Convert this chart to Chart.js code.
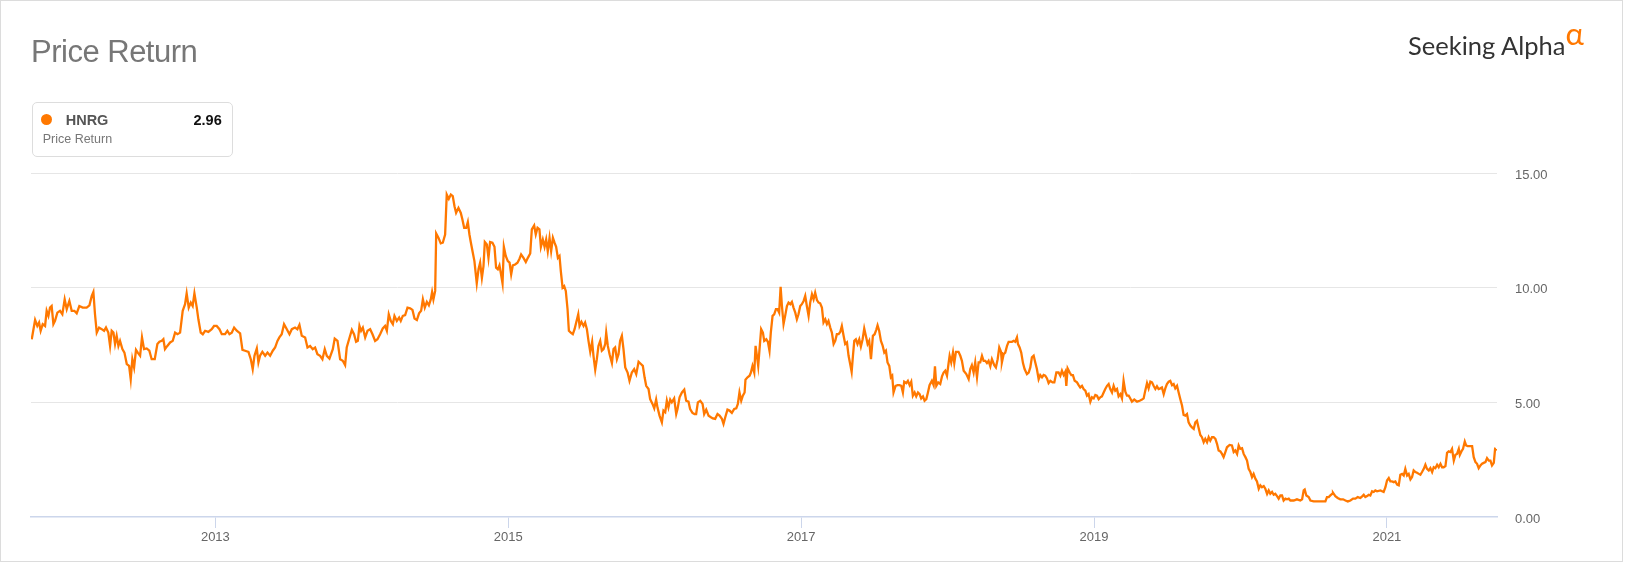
<!DOCTYPE html>
<html>
<head>
<meta charset="utf-8">
<title>Price Return</title>
<script src="https://cdn.jsdelivr.net/npm/chart.js@4.4.0/dist/chart.umd.min.js"></script>
<style>
  html, body { margin: 0; padding: 0; background: #fff; }
  body { width: 1625px; height: 562px; position: relative; overflow: hidden; font-family: "Liberation Sans", Arial, sans-serif; }
  #frame { position: absolute; left: 0; top: 0; width: 1623px; height: 562px; box-sizing: border-box; border: 1px solid #dcdcdc; pointer-events: none; }
  #chartBox { position: absolute; left: 0; top: 0; width: 1625px; height: 562px; }
  #title { position: absolute; left: 31px; top: 35.5px; font-size: 31px; line-height: 31px; letter-spacing: -0.5px; color: #777; white-space: nowrap; }
  #logo { position: absolute; left: 1408px; top: 32.7px; font-family: Lato, "Open Sans", sans-serif; font-size: 25.5px; line-height: 25.5px; color: #333; white-space: nowrap; }
  #alpha { position: absolute; left: 1565.5px; top: 18px; font-family: Lato, "Open Sans", sans-serif; font-size: 31px; line-height: 31px; color: #ff7800; }
  #legend { position: absolute; left: 32px; top: 102px; width: 201px; height: 55px; box-sizing: border-box; border: 1px solid #ddd; border-radius: 5px; background: #fff; }
  #legend .dot { position: absolute; left: 7.5px; top: 10.5px; width: 11px; height: 11px; border-radius: 50%; background: #ff7800; }
  #legend .name { position: absolute; left: 32.7px; top: 9.7px; font-size: 14.5px; line-height: 14.5px; font-weight: bold; color: #555; }
  #legend .value { position: absolute; right: 10.3px; top: 9.7px; font-size: 14.5px; line-height: 14.5px; font-weight: bold; color: #111; }
  #legend .sub { position: absolute; left: 9.7px; top: 30.4px; font-size: 12.5px; line-height: 12.5px; color: #777; white-space: nowrap; }
</style>
</head>
<body>
<div id="chartBox"><canvas id="priceChart" width="1625" height="562"></canvas></div>
<div id="title">Price Return</div>
<div id="logo">Seeking Alpha</div>
<div id="alpha">α</div>
<div id="legend">
  <span class="dot"></span>
  <span class="name" id="legendName"></span>
  <span class="value" id="legendValue"></span>
  <span class="sub">Price Return</span>
</div>
<div id="frame"></div>

<script>
// HNRG price return (dates as decimal years)
const ticker = "HNRG";
const seriesLabel = "Price Return";

const dates = [
  2011.746, 2011.769, 2011.784, 2011.796, 2011.807, 2011.821, 2011.837, 2011.848, 2011.860, 2011.871, 2011.882, 2011.894, 2011.905, 2011.921, 2011.939, 2011.955, 2011.971, 2011.985,
  2012.003, 2012.019, 2012.037, 2012.053, 2012.071, 2012.094, 2012.121, 2012.140, 2012.156, 2012.167, 2012.178, 2012.190, 2012.206, 2012.224, 2012.240, 2012.253, 2012.269, 2012.281,
  2012.292, 2012.304, 2012.315, 2012.326, 2012.338, 2012.349, 2012.365, 2012.379, 2012.395, 2012.411, 2012.422, 2012.433, 2012.445, 2012.458, 2012.470, 2012.486, 2012.499, 2012.513,
  2012.531, 2012.549, 2012.565, 2012.586, 2012.604, 2012.618, 2012.634, 2012.645, 2012.656, 2012.672, 2012.691, 2012.709, 2012.725, 2012.741, 2012.759, 2012.777, 2012.793, 2012.804,
  2012.818, 2012.832, 2012.845, 2012.857, 2012.873, 2012.884, 2012.900, 2012.914, 2012.930, 2012.952, 2012.975, 2012.991,
  2013.009, 2013.028, 2013.044, 2013.066, 2013.082, 2013.096, 2013.112, 2013.128, 2013.146, 2013.169, 2013.185, 2013.203, 2013.226, 2013.242, 2013.255, 2013.267, 2013.283, 2013.294,
  2013.305, 2013.321, 2013.340, 2013.356, 2013.374, 2013.392, 2013.408, 2013.424, 2013.437, 2013.453, 2013.469, 2013.488, 2013.506, 2013.522, 2013.544, 2013.560, 2013.574, 2013.590,
  2013.613, 2013.629, 2013.647, 2013.665, 2013.681, 2013.697, 2013.715, 2013.731, 2013.747, 2013.761, 2013.779, 2013.802, 2013.815, 2013.834, 2013.852, 2013.870, 2013.886, 2013.897,
  2013.913, 2013.932, 2013.947, 2013.961, 2013.973, 2013.984, 2013.995,
  2014.007, 2014.023, 2014.039, 2014.057, 2014.073, 2014.091, 2014.107, 2014.125, 2014.143, 2014.159, 2014.171, 2014.184, 2014.198, 2014.212, 2014.223, 2014.239, 2014.255, 2014.266,
  2014.280, 2014.296, 2014.312, 2014.330, 2014.346, 2014.360, 2014.376, 2014.391, 2014.405, 2014.417, 2014.430, 2014.444, 2014.458, 2014.471, 2014.480, 2014.489, 2014.501, 2014.508,
  2014.524, 2014.539, 2014.553, 2014.569, 2014.580, 2014.594, 2014.608, 2014.621, 2014.633, 2014.644, 2014.660, 2014.676, 2014.687, 2014.699, 2014.713, 2014.724, 2014.735, 2014.744,
  2014.758, 2014.769, 2014.785, 2014.797, 2014.808, 2014.820, 2014.831, 2014.840, 2014.854, 2014.865, 2014.876, 2014.892, 2014.906, 2014.917, 2014.929, 2014.940, 2014.949, 2014.961,
  2014.970, 2014.983, 2014.997,
  2015.009, 2015.020, 2015.031, 2015.047, 2015.063, 2015.077, 2015.088, 2015.104, 2015.120, 2015.134, 2015.150, 2015.161, 2015.177, 2015.188, 2015.200, 2015.213, 2015.223, 2015.236,
  2015.248, 2015.259, 2015.270, 2015.282, 2015.293, 2015.305, 2015.316, 2015.327, 2015.339, 2015.350, 2015.359, 2015.371, 2015.382, 2015.393, 2015.405, 2015.414, 2015.427, 2015.441,
  2015.453, 2015.464, 2015.478, 2015.487, 2015.500, 2015.514, 2015.525, 2015.537, 2015.548, 2015.560, 2015.573, 2015.582, 2015.594, 2015.605, 2015.616, 2015.628, 2015.639, 2015.651,
  2015.662, 2015.669, 2015.680, 2015.692, 2015.708, 2015.719, 2015.730, 2015.742, 2015.753, 2015.764, 2015.776, 2015.787, 2015.799, 2015.815, 2015.828, 2015.844, 2015.860, 2015.874,
  2015.890, 2015.906, 2015.919, 2015.931, 2015.942, 2015.958, 2015.969, 2015.985, 2015.997,
  2016.010, 2016.019, 2016.033, 2016.049, 2016.060, 2016.072, 2016.083, 2016.094, 2016.106, 2016.117, 2016.133, 2016.147, 2016.156, 2016.170, 2016.186, 2016.202, 2016.215, 2016.231,
  2016.242, 2016.258, 2016.272, 2016.283, 2016.295, 2016.311, 2016.327, 2016.338, 2016.352, 2016.368, 2016.384, 2016.397, 2016.413, 2016.429, 2016.443, 2016.459, 2016.470, 2016.482,
  2016.497, 2016.511, 2016.527, 2016.543, 2016.557, 2016.568, 2016.579, 2016.591, 2016.602, 2016.614, 2016.620, 2016.634, 2016.648, 2016.657, 2016.668, 2016.680, 2016.689, 2016.698,
  2016.707, 2016.716, 2016.727, 2016.739, 2016.748, 2016.762, 2016.773, 2016.784, 2016.793, 2016.805, 2016.816, 2016.828, 2016.839, 2016.850, 2016.860, 2016.869, 2016.880, 2016.891,
  2016.903, 2016.914, 2016.926, 2016.937, 2016.948, 2016.960, 2016.971, 2016.982, 2016.994,
  2017.005, 2017.017, 2017.028, 2017.039, 2017.051, 2017.062, 2017.074, 2017.085, 2017.096, 2017.108, 2017.119, 2017.130, 2017.142, 2017.153, 2017.165, 2017.176, 2017.187, 2017.199,
  2017.210, 2017.222, 2017.233, 2017.244, 2017.256, 2017.267, 2017.278, 2017.290, 2017.301, 2017.313, 2017.324, 2017.335, 2017.345, 2017.354, 2017.363, 2017.374, 2017.385, 2017.397,
  2017.408, 2017.420, 2017.431, 2017.442, 2017.454, 2017.465, 2017.477, 2017.490, 2017.502, 2017.513, 2017.522, 2017.533, 2017.545, 2017.556, 2017.568, 2017.579, 2017.590, 2017.602,
  2017.613, 2017.622, 2017.631, 2017.645, 2017.659, 2017.672, 2017.684, 2017.695, 2017.704, 2017.718, 2017.729, 2017.741, 2017.752, 2017.763, 2017.775, 2017.786, 2017.798, 2017.809,
  2017.820, 2017.832, 2017.843, 2017.855, 2017.866, 2017.877, 2017.893, 2017.905, 2017.914, 2017.923, 2017.936, 2017.950, 2017.962, 2017.973, 2017.984, 2017.996,
  2018.007, 2018.014, 2018.025, 2018.037, 2018.046, 2018.057, 2018.075, 2018.087, 2018.098, 2018.110, 2018.128, 2018.144, 2018.155, 2018.166, 2018.178, 2018.189, 2018.201, 2018.212,
  2018.223, 2018.235, 2018.246, 2018.258, 2018.269, 2018.280, 2018.292, 2018.303, 2018.319, 2018.330, 2018.342, 2018.353, 2018.365, 2018.371, 2018.383, 2018.394, 2018.406, 2018.417,
  2018.428, 2018.440, 2018.451, 2018.462, 2018.474, 2018.481, 2018.492, 2018.503, 2018.515, 2018.526, 2018.542, 2018.554, 2018.565, 2018.576, 2018.588, 2018.599, 2018.610, 2018.622,
  2018.633, 2018.645, 2018.656, 2018.667, 2018.679, 2018.690, 2018.702, 2018.717, 2018.729, 2018.743, 2018.758, 2018.770, 2018.781, 2018.793, 2018.804, 2018.811, 2018.820, 2018.834,
  2018.845, 2018.856, 2018.868, 2018.884, 2018.895, 2018.906, 2018.918, 2018.929, 2018.941, 2018.952, 2018.963, 2018.975, 2018.986, 2018.998,
  2019.009, 2019.020, 2019.032, 2019.043, 2019.054, 2019.066, 2019.077, 2019.089, 2019.100, 2019.111, 2019.123, 2019.134, 2019.145, 2019.157, 2019.168, 2019.180, 2019.191, 2019.202,
  2019.214, 2019.225, 2019.237, 2019.248, 2019.259, 2019.275, 2019.294, 2019.312, 2019.328, 2019.339, 2019.350, 2019.362, 2019.373, 2019.385, 2019.396, 2019.407, 2019.419, 2019.430,
  2019.441, 2019.453, 2019.464, 2019.476, 2019.487, 2019.498, 2019.510, 2019.521, 2019.533, 2019.544, 2019.555, 2019.567, 2019.578, 2019.590, 2019.601, 2019.612, 2019.624, 2019.635,
  2019.646, 2019.658, 2019.669, 2019.681, 2019.692, 2019.703, 2019.715, 2019.726, 2019.737, 2019.749, 2019.760, 2019.772, 2019.783, 2019.794, 2019.806, 2019.817, 2019.829, 2019.840,
  2019.851, 2019.863, 2019.874, 2019.885, 2019.897, 2019.908, 2019.926, 2019.942, 2019.954, 2019.965, 2019.977, 2019.988, 2019.999,
  2020.011, 2020.022, 2020.034, 2020.045, 2020.056, 2020.068, 2020.079, 2020.090, 2020.102, 2020.113, 2020.125, 2020.136, 2020.147, 2020.159, 2020.170, 2020.182, 2020.193, 2020.204,
  2020.216, 2020.227, 2020.238, 2020.250, 2020.261, 2020.273, 2020.284, 2020.295, 2020.307, 2020.318, 2020.330, 2020.341, 2020.364, 2020.386, 2020.409, 2020.421, 2020.432, 2020.439,
  2020.450, 2020.466, 2020.478, 2020.500, 2020.523, 2020.546, 2020.569, 2020.580, 2020.591, 2020.603, 2020.614, 2020.626, 2020.632, 2020.648, 2020.664, 2020.682, 2020.701, 2020.717,
  2020.733, 2020.751, 2020.769, 2020.785, 2020.801, 2020.819, 2020.833, 2020.842, 2020.853, 2020.865, 2020.876, 2020.887, 2020.899, 2020.910, 2020.921, 2020.933, 2020.956, 2020.978,
  2020.990,
  2021.001, 2021.013, 2021.024, 2021.035, 2021.047, 2021.058, 2021.070, 2021.081, 2021.092, 2021.104, 2021.115, 2021.126, 2021.138, 2021.149, 2021.161, 2021.172, 2021.183, 2021.195,
  2021.206, 2021.218, 2021.229, 2021.240, 2021.252, 2021.263, 2021.274, 2021.286, 2021.297, 2021.309, 2021.320, 2021.331, 2021.343, 2021.354, 2021.366, 2021.377, 2021.388, 2021.400,
  2021.411, 2021.422, 2021.434, 2021.445, 2021.457, 2021.468, 2021.479, 2021.491, 2021.498, 2021.509, 2021.520, 2021.532, 2021.541, 2021.552, 2021.566, 2021.582, 2021.593, 2021.605,
  2021.616, 2021.627, 2021.639, 2021.650, 2021.661, 2021.673, 2021.684, 2021.696, 2021.707, 2021.718, 2021.730, 2021.739, 2021.744
];

const prices = [
  7.75, 8.59, 8.33, 8.48, 8.12, 8.41, 8.33, 8.99, 8.77, 9.13, 9.20, 8.41, 8.55, 8.91, 8.99, 8.84, 9.49, 9.06,
  9.42, 8.99, 8.99, 8.88, 9.20, 9.13, 9.13, 9.23, 9.64, 9.81, 8.84, 8.04, 8.26, 8.19, 8.12, 8.26, 8.04, 7.46,
  8.12, 8.04, 7.54, 7.90, 7.46, 7.68, 7.32, 7.17, 6.67, 6.59, 6.01, 6.88, 6.52, 7.29, 7.17, 7.03, 7.83, 7.32,
  7.35, 7.25, 6.88, 6.88, 7.54, 7.64, 7.68, 7.75, 7.32, 7.46, 7.61, 7.68, 8.04, 7.97, 8.04, 8.99, 9.28, 9.75,
  9.13, 9.35, 9.20, 9.75, 9.13, 8.62, 8.04, 7.97, 8.12, 8.07, 8.19, 8.33,
  8.33, 8.19, 7.97, 7.97, 8.12, 7.97, 8.04, 8.26, 8.12, 8.01, 7.29, 7.25, 7.20, 6.88, 6.45, 7.03, 7.35, 6.74,
  7.03, 7.20, 7.03, 7.17, 7.03, 7.25, 7.39, 7.68, 7.83, 7.97, 8.41, 8.19, 7.97, 8.19, 8.26, 8.19, 8.38, 7.90,
  7.83, 7.39, 7.46, 7.32, 7.39, 7.10, 7.03, 6.88, 7.32, 7.03, 6.91, 7.32, 7.78, 7.68, 6.88, 6.81, 6.62, 7.39,
  7.75, 8.16, 7.97, 7.64, 7.68, 8.33, 8.12,
  8.26, 7.83, 8.12, 8.19, 7.97, 7.68, 7.75, 7.97, 8.22, 8.33, 8.12, 8.84, 8.55, 8.41, 8.77, 8.55, 8.70, 8.55,
  8.77, 8.80, 9.13, 9.10, 9.03, 8.65, 8.59, 8.88, 8.99, 9.49, 9.13, 9.38, 9.23, 9.49, 9.81, 9.49, 9.86, 12.36,
  12.17, 11.93, 11.96, 12.32, 14.06, 13.87, 14.06, 13.99, 13.55, 13.26, 13.48, 13.26, 12.97, 12.61, 12.61, 12.86, 12.32, 11.99,
  11.52, 11.16, 10.19, 10.80, 11.09, 10.43, 10.94, 11.99, 11.88, 11.30, 11.99, 11.96, 11.78, 10.87, 10.80, 10.97, 10.65, 10.19,
  11.78, 11.38, 11.16,
  11.09, 10.58, 10.97, 11.01, 11.09, 11.26, 11.45, 11.30, 11.12, 11.30, 11.49, 12.54, 12.71, 12.32, 12.61, 12.54, 11.78, 12.10,
  11.78, 12.10, 11.59, 12.17, 11.59, 12.17, 11.96, 11.78, 11.30, 11.38, 10.72, 10.00, 10.07, 9.86, 9.06, 8.12, 8.04, 7.97,
  8.19, 8.48, 8.84, 8.33, 8.51, 8.33, 8.48, 8.19, 7.68, 7.20, 7.64, 7.03, 6.42, 6.88, 7.46, 7.68, 7.25, 7.32,
  7.54, 8.04, 7.46, 7.10, 6.71, 7.32, 7.39, 6.88, 7.10, 7.68, 7.90, 7.32, 6.52, 6.30, 5.94, 6.30, 6.45, 6.23,
  6.77, 6.67, 6.59, 6.09, 5.72, 5.58, 5.14, 4.93, 4.74,
  5.12, 4.78, 4.42, 4.13, 4.64, 4.57, 5.07, 4.78, 5.12, 5.00, 5.17, 4.49, 4.71, 5.22, 5.43, 5.55, 5.07, 5.03,
  4.71, 4.54, 4.49, 4.49, 5.00, 5.07, 4.93, 4.49, 4.68, 4.42, 4.35, 4.30, 4.28, 4.49, 4.42, 4.28, 4.06, 4.35,
  4.68, 4.64, 4.54, 4.71, 4.74, 4.93, 5.43, 5.07, 5.29, 5.43, 5.99, 6.09, 6.16, 6.30, 6.59, 6.30, 7.46, 7.03,
  6.59, 7.32, 8.19, 8.04, 7.68, 7.75, 7.64, 7.25, 8.04, 8.77, 8.84, 9.06, 9.06, 8.91, 10.04, 9.20, 8.41, 8.77,
  9.20, 9.35, 9.28, 9.38, 9.13, 8.91, 8.62, 8.84, 9.20,
  9.28, 9.42, 9.64, 9.20, 8.77, 9.35, 9.71, 9.49, 9.78, 9.46, 9.35, 9.32, 9.13, 8.48, 8.62, 8.41, 8.55, 8.26,
  8.04, 7.54, 7.68, 7.97, 7.97, 8.07, 8.33, 7.90, 7.54, 7.61, 7.03, 6.67, 6.33, 7.03, 7.68, 7.75, 7.54, 7.75,
  7.43, 7.75, 8.22, 7.90, 7.54, 7.68, 6.88, 7.90, 7.97, 8.16, 8.36, 8.12, 7.68, 7.49, 7.17, 7.25, 6.74, 6.59,
  6.09, 6.16, 5.43, 5.72, 5.75, 5.75, 5.72, 5.43, 5.90, 5.84, 5.94, 5.75, 5.90, 5.29, 5.43, 5.26, 5.43, 5.36,
  5.17, 5.26, 5.07, 5.14, 5.43, 5.75, 5.94, 5.75, 6.57, 5.72, 5.87, 5.80, 6.13, 6.30, 6.38, 6.16,
  6.71, 7.03, 6.74, 7.17, 6.71, 7.20, 7.20, 7.03, 6.81, 6.38, 6.23, 6.01, 6.45, 6.62, 6.30, 6.74, 6.09, 6.74,
  6.74, 7.03, 6.81, 6.81, 6.71, 6.81, 6.57, 6.88, 6.62, 6.52, 6.88, 7.39, 7.20, 6.74, 7.10, 7.17, 7.46, 7.64,
  7.64, 7.64, 7.68, 7.64, 7.83, 7.54, 7.39, 7.17, 6.71, 6.45, 6.23, 6.30, 6.52, 6.96, 7.03, 6.74, 6.45, 6.01,
  6.19, 6.09, 6.19, 6.16, 6.04, 5.84, 5.94, 5.87, 5.87, 6.30, 6.30, 6.16, 6.38, 6.19, 6.33, 5.72, 6.48, 6.30,
  6.19, 6.19, 5.94, 5.87, 5.75, 5.65, 5.72, 5.58, 5.51, 5.29, 5.36, 5.03, 5.22, 5.17,
  5.32, 5.29, 5.14, 5.22, 5.26, 5.43, 5.58, 5.72, 5.80, 5.58, 5.43, 5.72, 5.51, 5.58, 5.26, 5.36, 5.17, 5.94,
  5.46, 5.29, 5.29, 5.17, 5.03, 5.12, 5.03, 5.07, 5.12, 5.17, 5.51, 5.84, 5.61, 5.90, 5.87, 5.72, 5.58, 5.70,
  5.58, 5.61, 5.65, 5.36, 5.61, 5.80, 5.90, 5.94, 5.75, 5.80, 5.61, 5.72, 5.43, 5.12, 4.86, 4.45, 4.42, 4.49,
  4.13, 3.99, 3.91, 3.84, 4.13, 4.20, 3.87, 3.58, 3.48, 3.26, 3.41, 3.26, 3.48, 3.33, 3.48, 3.48, 3.41, 3.19,
  2.90, 2.86, 2.75, 2.61, 2.83, 3.04, 3.14, 3.12, 2.83, 2.90, 2.75, 3.12, 2.97,
  3.00, 2.75, 2.61, 2.46, 2.10, 1.96, 1.74, 1.88, 1.67, 1.55, 1.23, 1.38, 1.30, 1.35, 1.23, 1.01, 1.16, 1.01,
  1.09, 0.97, 1.01, 0.91, 0.80, 0.94, 0.94, 0.72, 0.80, 0.77, 0.80, 0.72, 0.72, 0.77, 0.72, 0.77, 1.16, 1.20,
  0.94, 0.87, 0.72, 0.68, 0.68, 0.68, 0.68, 0.68, 0.87, 0.87, 0.94, 1.01, 1.06, 0.91, 0.83, 0.77, 0.77, 0.72,
  0.68, 0.72, 0.80, 0.80, 0.87, 0.83, 0.91, 0.97, 0.87, 0.91, 0.97, 0.94, 1.12, 1.09, 1.16, 1.12, 1.16, 1.09,
  1.30,
  1.59, 1.70, 1.55, 1.55, 1.52, 1.55, 1.41, 1.38, 1.84, 1.88, 1.81, 2.10, 1.81, 1.88, 1.64, 1.74, 2.03, 1.96,
  1.93, 1.88, 1.84, 1.96, 2.10, 2.28, 2.10, 2.03, 2.13, 1.96, 2.17, 2.13, 2.28, 2.17, 2.32, 2.17, 2.17, 2.22,
  2.80, 2.86, 2.83, 2.97, 2.46, 2.71, 2.75, 2.97, 2.71, 2.86, 2.97, 3.29, 3.12, 3.09, 3.09, 3.09, 2.61, 2.39,
  2.32, 2.13, 2.25, 2.32, 2.36, 2.39, 2.57, 2.46, 2.46, 2.25, 2.36, 2.97, 2.96
];

const xTickYears = [2013, 2015, 2017, 2019, 2021];
const yTickValues = [0, 5, 10, 15];
const xRange = [2011.741, 2021.752];
const lastValue = "2.96";

document.getElementById("legendName").textContent = ticker;
document.getElementById("legendValue").textContent = lastValue;

const points = dates.map((d, i) => ({ x: d, y: prices[i] }));
const orange = "#ff7800";

const ctx = document.getElementById("priceChart").getContext("2d");
new Chart(ctx, {
  type: "line",
  data: {
    datasets: [{
      label: seriesLabel,
      data: points,
      borderColor: orange,
      borderWidth: 2.3,
      pointRadius: 0,
      tension: 0,
      fill: false
    }]
  },
  options: {
    responsive: false,
    animation: false,
    devicePixelRatio: 1,
    layout: { padding: { left: 31, top: 173, right: 68, bottom: 15 } },
    plugins: {
      legend: { display: false },
      tooltip: { enabled: false }
    },
    scales: {
      x: {
        type: "linear",
        position: "bottom",
        min: xRange[0],
        max: xRange[1],
        afterBuildTicks: scale => { scale.ticks = xTickYears.map(v => ({ value: v })); },
        afterFit: scale => { scale.height = 30; },
        grid: { drawOnChartArea: false, drawTicks: true, tickLength: 11, tickColor: "#ccd6eb", lineWidth: 1 },
        border: { display: true, color: "#ccd6eb", width: 1.5 },
        ticks: {
          color: "#666",
          font: { family: "'Liberation Sans', Arial, sans-serif", size: 13 },
          padding: 2,
          maxRotation: 0,
          autoSkip: false,
          callback: v => String(v)
        }
      },
      y: {
        position: "right",
        min: 0,
        max: 15,
        afterBuildTicks: scale => { scale.ticks = yTickValues.map(v => ({ value: v })); },
        afterFit: scale => { scale.width = 60; },
        grid: {
          drawTicks: false,
          color: c => (c.tick && c.tick.value === 0 ? "rgba(0,0,0,0)" : "#e6e6e6"),
          lineWidth: 1
        },
        border: { display: false },
        ticks: {
          color: "#666",
          font: { family: "'Liberation Sans', Arial, sans-serif", size: 13 },
          padding: 18,
          labelOffset: 2,
          callback: v => Number(v).toFixed(2)
        }
      }
    }
  }
});
</script>
</body>
</html>
